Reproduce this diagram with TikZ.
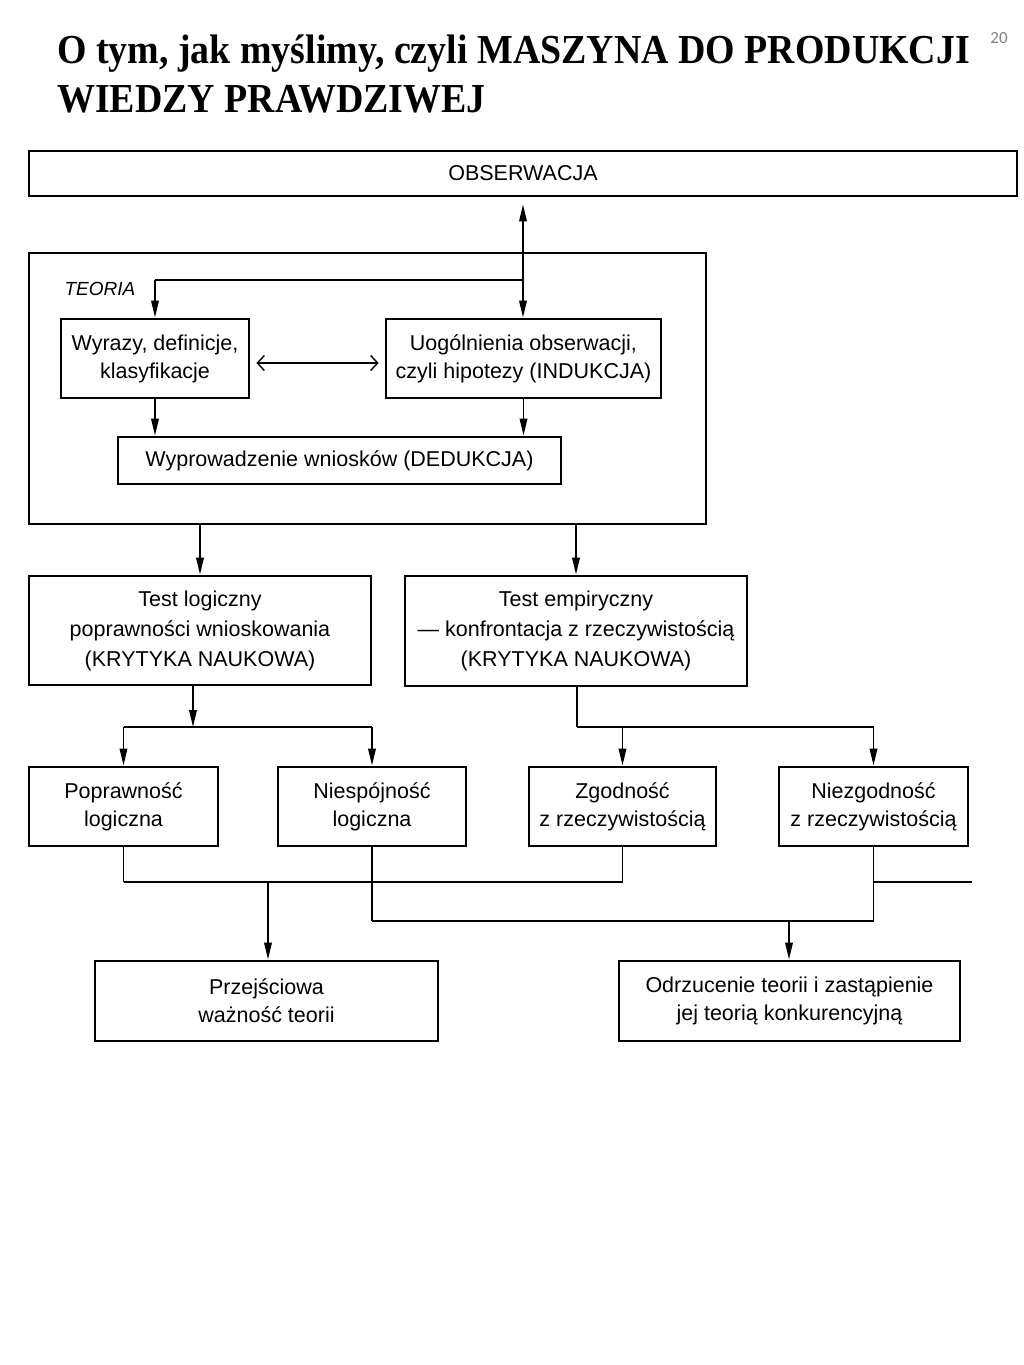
\documentclass[tikz,border=0pt]{standalone}
\usepackage{fontspec}
\setmainfont{Liberation Sans}
\newfontfamily\titlefont[FakeStretch=0.92]{Liberation Serif}
\newfontfamily\numfont{Carlito}
\usetikzlibrary{arrows.meta}
\begin{document}
\begin{tikzpicture}[x=1pt,y=-1pt,
  box/.style={draw, line width=2.8pt, inner sep=0pt, align=center, font=\fontsize{21.5}{28}\selectfont},
  conn/.style={line width=1.8pt},
  hline/.style={line width=2.8pt},
  arr/.style={line width=1.8pt, -{Triangle[length=17pt,width=7.5pt]}},
  dbl/.style={line width=1.4pt, {Straight Barb[length=7pt,width=15pt]}-{Straight Barb[length=7pt,width=15pt]}}
]
\useasboundingbox (0,0) rectangle (1024,1365);
% title
\node[anchor=base west, inner sep=0pt] (t1) at (57,63) {\titlefont\fontsize{41.2}{49}\selectfont\bfseries O tym, jak myślimy, czyli MASZYNA DO PRODUKCJI};
\node[anchor=base west, inner sep=0pt] (t2) at (57,112) {\titlefont\fontsize{41.2}{49}\selectfont\bfseries WIEDZY PRAWDZIWEJ};
\node[inner sep=0pt, text=gray] (pg) at (999,38) {\numfont\fontsize{17}{20}\selectfont 20};

% boxes
\node[box, minimum width=988pt, minimum height=45pt] (obs) at (523,173.5) {OBSERWACJA};
\node[box, minimum width=677pt, minimum height=271pt] (teoria) at (367.5,388.5) {};
\node[inner sep=0pt, font=\fontsize{19}{22}\selectfont\itshape] (tlab) at (100,289) {TEORIA};
\node[box, minimum width=188pt, minimum height=79pt] (wyr) at (155,358.5) {Wyrazy, definicje,\\klasyfikacje};
\node[box, minimum width=275pt, minimum height=79pt] (uog) at (523.5,358.5) {Uogólnienia obserwacji,\\czyli hipotezy (INDUKCJA)};
\node[box, minimum width=443pt, minimum height=47pt] (wyp) at (339.5,460.5) {Wyprowadzenie wniosków (DEDUKCJA)};

\node[box, minimum width=342pt, minimum height=109pt, font=\fontsize{21.5}{30}\selectfont] (tl) at (200,630.5) {Test logiczny\\poprawności wnioskowania\\(KRYTYKA NAUKOWA)};
\node[box, minimum width=342pt, minimum height=110pt, font=\fontsize{21.5}{30}\selectfont] (te) at (576,631) {Test empiryczny\\— konfrontacja z rzeczywistością\\(KRYTYKA NAUKOWA)};

\node[box, minimum width=189pt, minimum height=79pt] (pop) at (123.5,806.5) {Poprawność\\logiczna};
\node[box, minimum width=188pt, minimum height=79pt] (nsp) at (372,806.5) {Niespójność\\logiczna};
\node[box, minimum width=187pt, minimum height=79pt] (zgo) at (622.5,806.5) {Zgodność\\z rzeczywistością};
\node[box, minimum width=189pt, minimum height=79pt] (nzg) at (873.5,806.5) {Niezgodność\\z rzeczywistością};

\node[box, minimum width=343pt, minimum height=80pt] (prz) at (266.5,1001) {Przejściowa\\ważność teorii};
\node[box, minimum width=341pt, minimum height=80pt] (odr) at (789.5,1001) {Odrzucenie teorii i zastąpienie\\jej teorią konkurencyjną};

% connectors inside TEORIA
\coordinate (j1) at (523,280);
\draw[arr] (j1) -- ([yshift=-7pt]obs.south -| j1);
\draw[line width=2.2pt] (j1) -- (j1 -| wyr.north);
\draw[arr] (j1 -| wyr.north) -- (wyr.north);
\draw[arr] (j1) -- (j1 |- uog.north);
\draw[dbl] ([xshift=6pt,yshift=-4.5pt]wyr.east) -- ([xshift=-6pt,yshift=-4.5pt]uog.west);
\draw[arr] (wyr.south) -- (wyr.south |- wyp.north);
\draw[arr] (uog.south) -- (uog.south |- wyp.north);

% TEORIA to tests
\draw[arr] (teoria.south -| tl.north) -- (tl.north);
\draw[arr] (teoria.south -| te.north) -- (te.north);

% tests to results
\coordinate (s1) at (193,727);
\coordinate (s2) at (577,727);
\draw[arr] (tl.south -| s1) -- (s1);
\draw[hline] (s1 -| pop.north) -- (s1 -| nsp.north);
\draw[arr] (s1 -| pop.north) -- (pop.north);
\draw[arr] (s1 -| nsp.north) -- (nsp.north);
\draw[conn] (te.south -| s2) -- (s2);
\draw[hline] (s2) -- (s2 -| nzg.north);
\draw[arr] (s2 -| zgo.north) -- (zgo.north);
\draw[arr] (s2 -| nzg.north) -- (nzg.north);

% results to conclusions
\coordinate (m1) at (268,882);
\coordinate (m2) at (789,921);
\coordinate (stub) at (972,882);
\draw[conn] (pop.south) -- (pop.south |- m1);
\draw[conn] (zgo.south) -- (zgo.south |- m1);
\draw[hline] (pop.south |- m1) -- (zgo.south |- m1);
\draw[arr] (m1) -- (m1 |- prz.north);
\draw[conn] (nsp.south) -- (nsp.south |- m2);
\draw[conn] (nzg.south) -- (nzg.south |- m2);
\draw[hline] (nsp.south |- m2) -- (nzg.south |- m2);
\draw[hline] (nzg.south |- stub) -- (stub);
\draw[arr] (m2) -- (m2 |- odr.north);
\end{tikzpicture}
\end{document}
